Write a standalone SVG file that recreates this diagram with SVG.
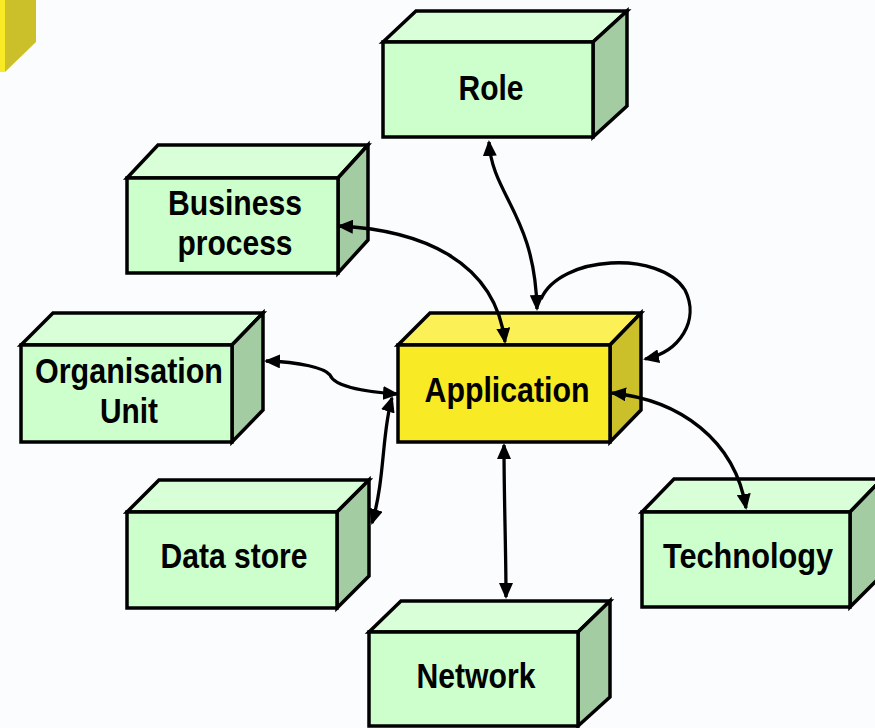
<svg xmlns="http://www.w3.org/2000/svg" width="875" height="728" viewBox="0 0 875 728">
<defs>
<style>
.front{fill:#CCFFCC;stroke:#000;stroke-width:3.5;stroke-linejoin:miter}
.top{fill:#D9FFD9;stroke:#000;stroke-width:3.5;stroke-linejoin:miter}
.side{fill:#A3CCA3;stroke:#000;stroke-width:3.5;stroke-linejoin:miter}
.yfront{fill:#F9EA26;stroke:#000;stroke-width:3.5}
.ytop{fill:#FBF055;stroke:#000;stroke-width:3.5}
.yside{fill:#CBC02A;stroke:#000;stroke-width:3.5}
.lbl{font-family:"Liberation Sans",Arial,sans-serif;font-weight:bold;font-size:35px;fill:#000;text-anchor:middle}
.conn{fill:none;stroke:#000;stroke-width:3.3}
</style>
<marker id="ah" viewBox="0 0 16 14" refX="14" refY="7" markerWidth="16" markerHeight="14" markerUnits="userSpaceOnUse" orient="auto-start-reverse">
<path d="M0,0 L16,7 L0,14 z" fill="#000"/>
</marker>
</defs>
<rect width="875" height="728" fill="#FBFCFE"/>
<g id="corner">
<rect x="0" y="0" width="5" height="72" fill="#F9EA26"/>
<polygon points="5,0 36,0 36,42 5,72" fill="#CBC02A"/>
</g>
<g id="role">
<polygon class="top" points="383,42 416,11 627,11 593,42"/>
<polygon class="side" points="593,42 627,11 627,106 593,137"/>
<rect class="front" x="383" y="42" width="210" height="95"/>
<text class="lbl" x="491" y="100" textLength="65" lengthAdjust="spacingAndGlyphs">Role</text>
</g>
<g id="business-process">
<polygon class="top" points="127,178 158,145 368,145 338,178"/>
<polygon class="side" points="338,178 368,145 368,240 338,273"/>
<rect class="front" x="127" y="178" width="211" height="95"/>
<text class="lbl" x="235" y="215" textLength="134" lengthAdjust="spacingAndGlyphs">Business</text>
<text class="lbl" x="235" y="255" textLength="115" lengthAdjust="spacingAndGlyphs">process</text>
</g>
<g id="organisation-unit">
<polygon class="top" points="21,345 53,313 263,313 232,345"/>
<polygon class="side" points="232,345 263,313 263,410 232,442"/>
<rect class="front" x="21" y="345" width="211" height="97"/>
<text class="lbl" x="129" y="383" textLength="188" lengthAdjust="spacingAndGlyphs">Organisation</text>
<text class="lbl" x="129" y="423" textLength="58" lengthAdjust="spacingAndGlyphs">Unit</text>
</g>
<g id="data-store">
<polygon class="top" points="127,512 159,480 369,480 337,512"/>
<polygon class="side" points="337,512 369,480 369,576 337,608"/>
<rect class="front" x="127" y="512" width="210" height="96"/>
<text class="lbl" x="234" y="568" textLength="147" lengthAdjust="spacingAndGlyphs">Data store</text>
</g>
<g id="application">
<polygon class="ytop" points="398,345 430,313 641,313 610,345"/>
<polygon class="yside" points="610,345 641,313 641,410 610,442"/>
<rect class="yfront" x="398" y="345" width="212" height="97"/>
<text class="lbl" x="507" y="402" textLength="165" lengthAdjust="spacingAndGlyphs">Application</text>
</g>
<g id="network">
<polygon class="top" points="369,632 401,601 610,601 578,632"/>
<polygon class="side" points="578,632 610,601 610,697 578,726"/>
<rect class="front" x="369" y="632" width="209" height="94"/>
<text class="lbl" x="476" y="688" textLength="119" lengthAdjust="spacingAndGlyphs">Network</text>
</g>
<g id="technology">
<polygon class="top" points="642,512 674,479 882,479 850,512"/>
<polygon class="side" points="850,512 882,479 882,575 850,607"/>
<rect class="front" x="642" y="512" width="208" height="95"/>
<text class="lbl" x="748" y="568" textLength="170" lengthAdjust="spacingAndGlyphs">Technology</text>
</g>
<g id="connectors">
<path class="conn" d="M489,142 C492,195 535,215 537,309" marker-start="url(#ah)" marker-end="url(#ah)"/>
<path class="conn" d="M339,226 C420,230 495,260 505,342" marker-start="url(#ah)" marker-end="url(#ah)"/>
<path class="conn" d="M541,299 C560,255 660,250 685,290 C700,320 680,352 645,359" marker-end="url(#ah)"/>
<path class="conn" d="M266,361 C300,362 325,368 330,375 C335,388 370,392 397,394" marker-start="url(#ah)" marker-end="url(#ah)"/>
<path class="conn" d="M392,398 C382,430 385,480 372,523" marker-start="url(#ah)" marker-end="url(#ah)"/>
<path class="conn" d="M504,445 C504,500 506,550 506,597" marker-start="url(#ah)" marker-end="url(#ah)"/>
<path class="conn" d="M612,393 C680,400 735,440 746,508" marker-start="url(#ah)" marker-end="url(#ah)"/>
</g>
</svg>
